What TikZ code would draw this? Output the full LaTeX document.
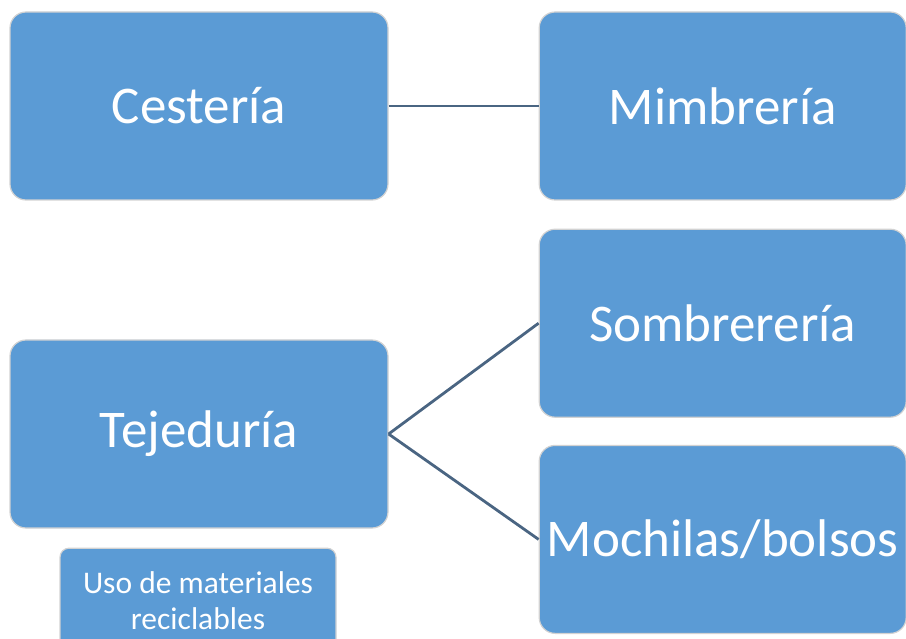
\documentclass[tikz,border=0pt]{standalone}
\usepackage{fontspec}
\setmainfont{Carlito}
\usetikzlibrary{positioning}
\definecolor{boxblue}{HTML}{5B9BD5}
\definecolor{linkgray}{HTML}{4A6582}

\begin{document}
\begin{tikzpicture}[x=1pt,y=-1pt,
  box/.style={draw=gray!35,line width=1.2pt,fill=boxblue,rounded corners=16pt,
    text=white,align=center,minimum width=378pt,minimum height=188pt,
    inner sep=0pt,font=\fontsize{53}{60}\selectfont},
  rbox/.style={box,minimum width=367pt},
  small/.style={box,rounded corners=9pt,minimum width=276pt,minimum height=104pt,
    font=\fontsize{31.5}{36}\selectfont},
  link/.style={linkgray,line width=2.8pt}
]
  \useasboundingbox (0,0) rectangle (906,639);

  \node[box] (ces) at (199,106) {Cestería};
  \node[rbox,right=150pt of ces] (mim) {Mimbrería};
  \node[rbox,below=28pt of mim] (som) {Sombrerería};
  \node[rbox,below=27pt of som] (moc) {Mochilas/bolsos};
  \draw[link] (ces) -- (mim);

  \node[box] (tej) at (199,434) {Tejeduría};
  \node[small,below=20pt of tej,xshift=-1pt,yshift=1pt] (uso) {Uso de materiales\\reciclables};
  \draw[link] (tej.east) -- (som.west);
  \draw[link] (tej.east) -- (moc.west);
\end{tikzpicture}
\end{document}
